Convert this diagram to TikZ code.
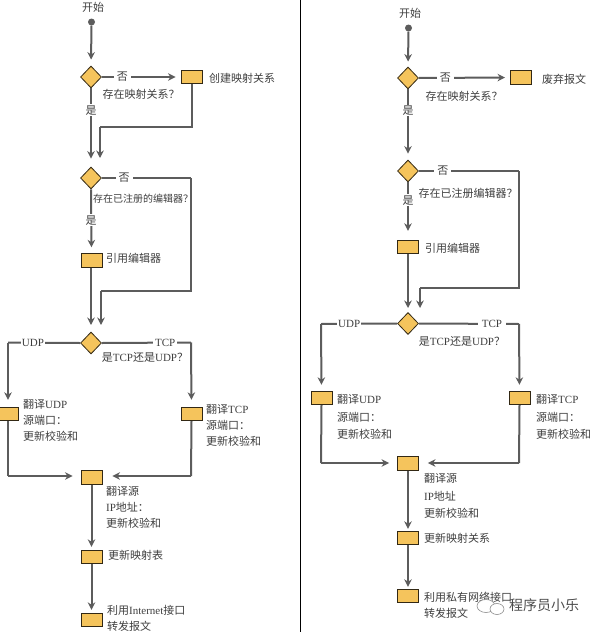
\documentclass[tikz,border=0pt]{standalone}
\usepackage{fontspec}
\setmainfont{Noto Sans CJK SC}
\newfontfamily\latinfont{Liberation Serif}
\usepackage{tikz}
\usetikzlibrary{calc,arrows.meta,positioning,shapes.geometric}
\definecolor{boxorange}{RGB}{245,196,92}
\definecolor{boxedge}{RGB}{50,40,20}
\definecolor{flowgrey}{RGB}{92,92,92}
\definecolor{labgrey}{RGB}{62,62,62}
\newcommand{\lat}[1]{{\latinfont #1}}
\tikzset{
  fbox/.style ={rectangle, draw=boxedge, fill=boxorange, line width=0.9pt,
                minimum width=21pt, minimum height=13.5pt, inner sep=0pt},
  fdiam/.style={diamond, draw=boxedge, fill=boxorange, line width=0.8pt,
                minimum width=21pt, minimum height=22pt, inner sep=0pt},
  fline/.style={line width=2pt, flowgrey},
  farrow/.style={fline, -{Stealth[length=7.5pt, width=7.5pt]}},
  lab/.style  ={font=\fontsize{11}{16}\selectfont, text=labgrey, inner sep=0pt,
                align=left},
  onlab/.style={lab, fill=white, inner xsep=3pt, inner ysep=1pt},
  fstart/.style={circle, fill=flowgrey, minimum size=7pt, inner sep=0pt},
  marklab/.style ={font=\fontsize{14}{16}\selectfont, text=black!70, inner sep=0pt},
}
\begin{document}
\begin{tikzpicture}[x=1pt, y=-1pt]
  \clip (0,0) rectangle (596,632);

  % --- left chart: nodes ---------------------------------------------------
  \node[lab] (lbegin) at (93,7) {开始};
  \node[fstart] (ldot) at (91.5,22) {};
  \node[fdiam] (ld1) at (91,77) {};
  \node[fbox] (lb1) at (191.5,77) {};
  \node[lab, anchor=west] (lt1) at (209,78) {创建映射关系};
  \node[lab] (lq1) at (141,94) {存在映射关系？};
  \node[fdiam] (ld2) at (91,178) {};
  \node[lab, font=\fontsize{10}{12}\selectfont] (lq2) at (143,199) {存在已注册的编辑器？};
  \node[fbox] (lb2) at (91.5,260.5) {};
  \node[lab, anchor=west] (lt2) at (106,258) {引用编辑器};
  \node[fdiam] (ld3) at (91,343) {};
  \node[lab] (lq3) at (145,357) {是\lat{TCP}还是\lat{UDP}？};
  \node[fbox] (lb3) at (8,414) {};
  \node[lab, anchor=west] (lt3) at (23,420) {翻译\lat{UDP}\\源端口：\\更新校验和};
  \node[fbox] (lb4) at (191.5,414) {};
  \node[lab, anchor=west] (lt4) at (206,425) {翻译\lat{TCP}\\源端口：\\更新校验和};
  \node[fbox] (lb5) at (91.5,477.5) {};
  \node[lab, anchor=west] (lt5) at (106,507) {翻译源\\\lat{IP}地址：\\更新校验和};
  \node[fbox] (lb6) at (91.5,557) {};
  \node[lab, anchor=west] (lt6) at (108,555) {更新映射表};
  \node[fbox] (lb7) at (91.5,620) {};
  \node[lab, anchor=west] (lt7) at (107,618) {利用\lat{Internet}接口\\转发报文};

  % --- left chart: helper corners ------------------------------------------
  \coordinate (lc1) at (100,127);
  \coordinate (lc2) at (100,158);
  \coordinate (lc3) at (191,291);
  \coordinate (lc4) at (101,291);
  \coordinate (lc5) at (101,325);
  \coordinate (lc6) at (91,325);
  \coordinate (lc7) at (8,342.5);
  \coordinate (lc8) at (191,342.5);
  \coordinate (lc9) at (8,476);
  \coordinate (lc10) at (191,476);

  % --- left chart: connectors ----------------------------------------------
  \draw[farrow, shorten >=6pt] (ldot) -- (ld1.north);
  \draw[farrow, shorten >=5pt] (ld1.east) -- (lb1.west)
    node[onlab, pos=0.26] (lno1) {否};
  \draw[farrow, shorten >=8pt] (ld1.south) -- (ld2.north)
    node[onlab, pos=0.28] (lyes1) {是};
  \draw[fline] (lb1.south) |- (lc1);
  \draw[farrow] (lc1) -- (lc2);
  \draw[fline] (ld2.east) -- (lc3 |- ld2.east)
    node[onlab, pos=0.25] (lno2) {否};
  \draw[fline] (lc3 |- ld2.east) -- (lc3) -- (lc4);
  \draw[farrow] (lc4) -- (lc5);
  \draw[farrow, shorten >=6pt] (ld2.south) -- (lb2.north)
    node[onlab, pos=0.48] (lyes2) {是};
  \draw[farrow] (lb2.south -| lc6) -- (lc6);
  \draw[fline] (ld3.west) -- (lc7) node[onlab, pos=0.655, inner xsep=1pt] (ludp) {\lat{UDP}};
  \draw[farrow, shorten >=7pt] (lc7) -- (lb3.north);
  \draw[fline] (ld3.east) -- (lc8) node[onlab, pos=0.71, inner xsep=2pt] (ltcp) {\lat{TCP}};
  \draw[farrow, shorten >=7pt] (lc8) -- (lb4.north);
  \draw[fline] (lb3.south) -- (lc9);
  \draw[farrow, shorten >=8pt] (lc9) -- (lb5.west |- lc9);
  \draw[fline] (lb4.south) -- (lc10);
  \draw[farrow, shorten >=10pt] (lc10) -- (lb5.east |- lc10);
  \draw[farrow, shorten >=3pt] (lb5.south) -- (lb6.north);
  \draw[farrow, shorten >=3pt] (lb6.south) -- (lb7.north);

  % --- divider --------------------------------------------------------------
  \draw[line width=1pt, black] (300.5,0) coordinate (dtop) -- (300.5,632) coordinate (dbot);

  % --- right chart: nodes --------------------------------------------------
  \node[lab] (rbegin) at (410,13) {开始};
  \node[fstart] (rdot) at (408.5,28) {};
  \node[fdiam] (rd1) at (408,78) {};
  \node[fbox] (rb1) at (521,77.5) {};
  \node[lab, anchor=west] (rt1) at (542,79) {废弃报文};
  \node[lab] (rq1) at (464,96) {存在映射关系？};
  \node[fdiam] (rd2) at (408,171) {};
  \node[lab] (rq2) at (468,193) {存在已注册编辑器？};
  \node[fbox] (rb2) at (408,247) {};
  \node[lab, anchor=west] (rt2) at (425,248) {引用编辑器};
  \node[fdiam] (rd3) at (408,323.5) {};
  \node[lab] (rq3) at (462,341) {是\lat{TCP}还是\lat{UDP}？};
  \node[fbox] (rb3) at (321.5,398) {};
  \node[lab, anchor=west] (rt3) at (337,417) {翻译\lat{UDP}\\[1.5pt]源端口：\\[1.5pt]更新校验和};
  \node[fbox] (rb4) at (519.5,398) {};
  \node[lab, anchor=west] (rt4) at (536,417) {翻译\lat{TCP}\\[1.5pt]源端口：\\[1.5pt]更新校验和};
  \node[fbox] (rb5) at (408,463.5) {};
  \node[lab, anchor=west] (rt5) at (424,496) {翻译源\\[1.5pt]\lat{IP}地址\\[1.5pt]更新校验和};
  \node[fbox] (rb6) at (408,538) {};
  \node[lab, anchor=west] (rt6) at (424,538) {更新映射关系};
  \node[fbox] (rb7) at (408,596) {};
  \node[lab, anchor=west] (rt7) at (424,605) {利用私有网络接口\\转发报文};

  % --- right chart: helper corners -----------------------------------------
  \coordinate (rc3) at (519,288);
  \coordinate (rc4) at (420,288);
  \coordinate (rc5) at (420,308);
  \coordinate (rc6) at (408,308);
  \coordinate (rc7) at (321,324);
  \coordinate (rc8) at (519,324);
  \coordinate (rc9) at (321,463);
  \coordinate (rc10) at (519,463);

  % --- right chart: connectors ---------------------------------------------
  \draw[farrow, shorten >=5pt] (rdot) -- (rd1.north);
  \draw[farrow, shorten >=5pt] (rd1.east) -- (rb1.west)
    node[onlab, pos=0.29] (rno1) {否};
  \draw[farrow, shorten >=6pt] (rd1.south) -- (rd2.north)
    node[onlab, pos=0.30] (ryes1) {是};
  \draw[fline] (rd2.east) -- (rc3 |- rd2.east)
    node[onlab, pos=0.24] (rno2) {否};
  \draw[fline] (rc3 |- rd2.east) -- (rc3) -- (rc4);
  \draw[farrow] (rc4) -- (rc5);
  \draw[farrow, shorten >=9pt] (rd2.south) -- (rb2.north)
    node[onlab, pos=0.31] (ryes2) {是};
  \draw[farrow] (rb2.south) -- (rc6);
  \draw[fline] (rd3.west) -- (rc7) node[onlab, pos=0.63, inner xsep=1pt] (rudp) {\lat{UDP}};
  \draw[farrow, shorten >=6pt] (rc7) -- (rb3.north);
  \draw[fline] (rd3.east) -- (rc8) node[onlab, pos=0.73, inner xsep=4pt] (rtcp) {\lat{TCP}};
  \draw[farrow, shorten >=6pt] (rc8) -- (rb4.north);
  \draw[fline] (rb3.south) -- (rc9);
  \draw[farrow, shorten >=8pt] (rc9) -- (rb5.west |- rc9);
  \draw[fline] (rb4.south) -- (rc10);
  \draw[farrow, shorten >=9pt] (rc10) -- (rb5.east |- rc10);
  \draw[farrow, shorten >=2pt] (rb5.south) -- (rb6.north);
  \draw[farrow, shorten >=2pt] (rb6.south) -- (rb7.north);

  % --- corner mark -----------------------------------------------------------
  \draw[black!45, line width=0.6pt, fill=white] (486,606) ellipse (9 and 6.5);
  \draw[black!45, line width=0.6pt, fill=white] (497,609) ellipse (7 and 5.5);
  \node[marklab] (markname) at (544,605) {程序员小乐};
\end{tikzpicture}
\end{document}
